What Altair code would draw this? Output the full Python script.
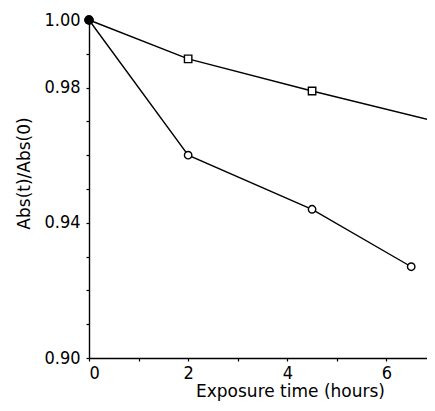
import altair as alt
import pandas as pd

# Series values
t_sq = [0, 2, 4.5, 7]
r_sq = [1.000, 0.9885, 0.979, 0.970]
t_ci = [0, 2, 4.5, 6.5]
r_ci = [1.000, 0.960, 0.944, 0.927]

y_ticks = [0.90, 0.91, 0.92, 0.93, 0.94, 0.95, 0.96, 0.97, 0.98, 0.99, 1.00]
y_labels = [0.90, 0.94, 0.98, 1.00]
x_ticks = [0, 1, 2, 3, 4, 5, 6, 7]
x_labels = [0, 2, 4, 6]

df = pd.concat([
    pd.DataFrame({"t": t_sq, "r": r_sq, "s": "square"}),
    pd.DataFrame({"t": t_ci, "r": r_ci, "s": "circle"}),
])

LF = "DejaVu Sans Condensed"
TF = "DejaVu Sans"

x = alt.X("t:Q", scale=alt.Scale(domain=[0, 7], range=[0, 347], nice=False),
          axis=alt.Axis(values=x_ticks,
                        labelExpr="indexof(%s, datum.value) >= 0 ? datum.label : ''" % str(x_labels),
                        title="Exposure  time (hours)", titleX=201, titleY=38,
                        titleBaseline="alphabetic",
                        tickSize=3, labelPadding=3))
y = alt.Y("r:Q", scale=alt.Scale(domain=[0.90, 1.00], nice=False, zero=False),
          axis=alt.Axis(values=y_ticks, format=".2f",
                        labelExpr="indexof(%s, round(datum.value*100)/100) >= 0 ? datum.label : ''" % str(y_labels),
                        title="Abs(t)/Abs(0)", titleY=153,
                        tickSize=3, labelPadding=6, titlePadding=10))

base = alt.Chart(df)
lines = base.mark_line(color="black", strokeWidth=1.4).encode(x=x, y=y, detail="s:N")
pts = base.transform_filter("datum.t > 0").mark_point(
    color="black", strokeWidth=1.4, size=55, opacity=1, fill="white", filled=False
).encode(
    x=x, y=y,
    shape=alt.Shape("s:N", scale=alt.Scale(domain=["square", "circle"], range=["square", "circle"]), legend=None),
)
origin = base.transform_filter("datum.t == 0").mark_circle(
    color="black", size=90, opacity=1
).encode(x=x, y=y)

chart = (lines + pts + origin).properties(
    width=338, height=338,
    autosize=alt.AutoSizeParams(type="none"),
    padding={"left": 81, "top": 12, "right": 0, "bottom": 45},
).configure_view(stroke=None).configure_axis(
    grid=False, domainColor="black", domainWidth=1.4, tickColor="black", tickWidth=1.2,
    labelFont=LF, labelFontSize=18, labelColor="black",
    titleFont=TF, titleFontSize=17, titleFontWeight="normal", titleColor="black",
)

chart.save("out.html", embed_options={"renderer": "svg", "actions": False})
